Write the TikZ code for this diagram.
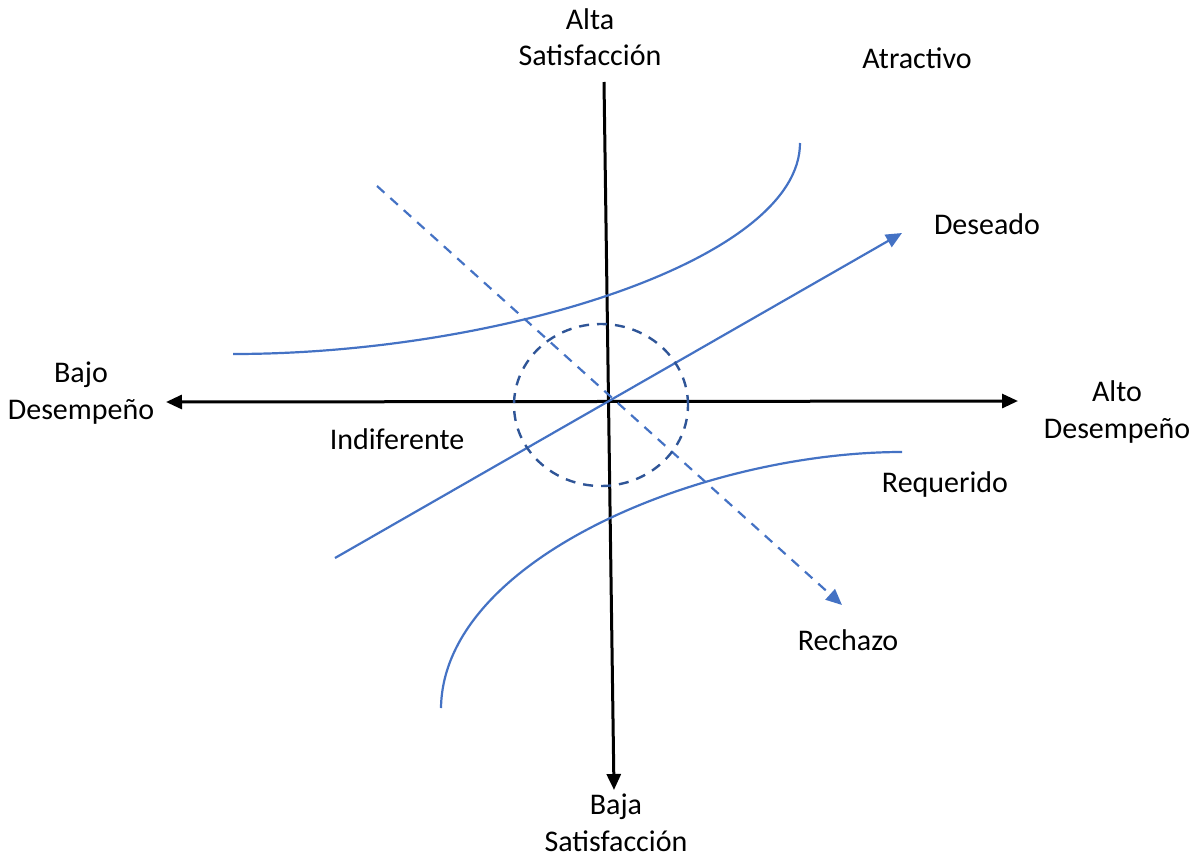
\documentclass[tikz,border=0pt]{standalone}
\usepackage{fontspec}
\setmainfont{Carlito}
\usetikzlibrary{arrows.meta}
\definecolor{cblue}{HTML}{4472C4}
\definecolor{cdark}{HTML}{2F5597}
\begin{document}
\begin{tikzpicture}[x=0.5pt,y=-0.5pt,
  lbl/.style={font=\fontsize{15}{18.3}\selectfont, align=center, inner sep=0pt},
  axisline/.style={line width=1.5pt},
  bline/.style={cblue, line width=1.1pt},
  dashline/.style={dash pattern=on 5pt off 4pt}]
\useasboundingbox (0,0) rectangle (1200,857);
% coordinates
\coordinate (hl) at (166,402);
\coordinate (hr) at (1018,401);
\coordinate (vt) at (604,82);
\coordinate (vb) at (614,790);
\coordinate (ds) at (335,558);
\coordinate (de) at (902,233);
\coordinate (rs) at (377,186);
\coordinate (re) at (842,605);
\coordinate (a1) at (233,354);
\coordinate (a2) at (800,143);
\coordinate (q1) at (441,708);
\coordinate (q2) at (902,452);
% axes
\draw[axisline, {Triangle[length=8pt,width=7pt]}-{Triangle[length=8pt,width=7pt]}] (hl) -- (hr);
\draw[axisline, -{Triangle[length=8pt,width=7pt]}] (vt) -- (vb);
% curves
\draw[bline] (a1) .. controls (500,354) and (800,260) .. (a2);
\draw[bline] (q1) .. controls (443,558) and (705,452) .. (q2);
% lines
\draw[bline, -{Triangle[length=8pt,width=7pt]}] (ds) -- (de);
\draw[bline, dashline, -{Triangle[length=8pt,width=7pt]}] (rs) -- (re);
% ellipse
\draw[cdark, line width=1.2pt, dashline] (601,405) ellipse [x radius=43.5pt, y radius=40.5pt];
% labels
\node[lbl] (alta) at (590,37) {Alta\\Satisfacción};
\node[lbl] (baja) at (616,823) {Baja\\Satisfacción};
\node[lbl] (bajo) at (81,393) {Bajo\\Desempeño};
\node[lbl] (alto) at (1117,412) {Alto\\Desempeño};
\node[lbl] (atr) at (917,58) {Atractivo};
\node[lbl] (des) at (987,224) {Deseado};
\node[lbl] (ind) at (397,439) {Indiferente};
\node[lbl] (req) at (945,484) {Requerido};
\node[lbl] (rec) at (848,640) {Rechazo};
\end{tikzpicture}
\end{document}
